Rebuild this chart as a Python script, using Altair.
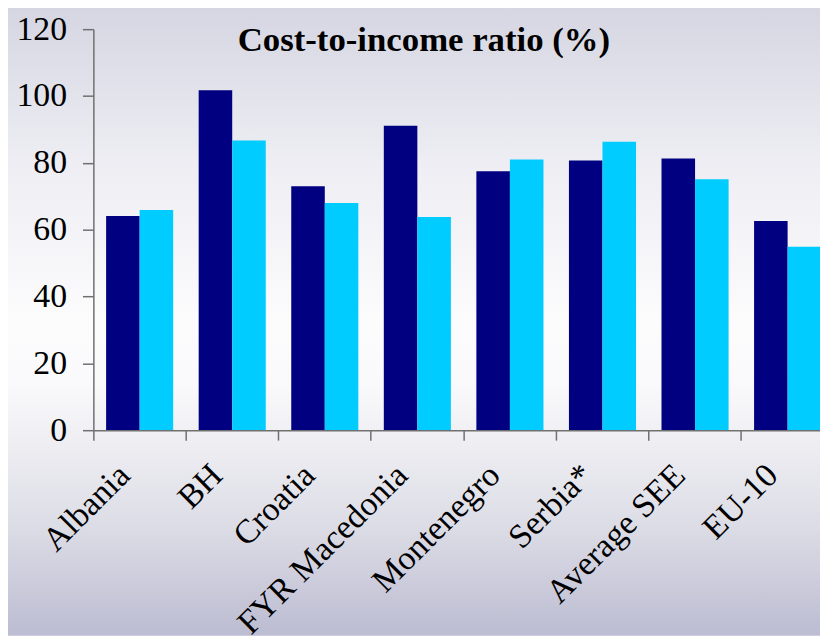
import altair as alt
import pandas as pd

categories = ["Albania", "BH", "Croatia", "FYR Macedonia", "Montenegro",
              "Serbia*", "Average SEE", "EU-10"]
series_names = ["Series 1", "Series 2"]
series1 = [64.1, 101.7, 73.0, 91.1, 77.5, 80.7, 81.3, 62.6]
series2 = [65.9, 86.7, 68.0, 63.8, 81.0, 86.3, 75.1, 54.9]
colors = ["#000080", "#00CCFF"]
y_ticks = [0, 20, 40, 60, 80, 100, 120]
title_text = "Cost-to-income ratio (%)"

rows = []
for c, a, b in zip(categories, series1, series2):
    rows.append({"category": c, "series": series_names[0], "value": a})
    rows.append({"category": c, "series": series_names[1], "value": b})
df = pd.DataFrame(rows)

W, H = 732, 404
PL, PT, PR, PB = 86, 19, 0, 207
SERIF = "Liberation Serif, Times New Roman, serif"

grad = alt.Gradient(
    gradient="linear",
    stops=[
        alt.GradientStop(color="#d5d5e2", offset=0),
        alt.GradientStop(color="#ededf3", offset=0.25),
        alt.GradientStop(color="#fcfcfd", offset=0.5),
        alt.GradientStop(color="#fafafc", offset=0.6),
        alt.GradientStop(color="#f0f0f4", offset=0.68),
        alt.GradientStop(color="#dcdce6", offset=0.83),
        alt.GradientStop(color="#bcbcd2", offset=1),
    ],
    x1=0, y1=0, x2=0, y2=1,
)

bg = alt.Chart(pd.DataFrame({"k": [0]})).mark_rect(fill=grad, clip=False).encode(
    x=alt.value(-PL - 10), x2=alt.value(W + PR + 20),
    y=alt.value(-PT - 8), y2=alt.value(638 - 8 - PT),
)

bars = alt.Chart(df).mark_bar().encode(
    x=alt.X("category:N", sort=categories, title=None,
            scale=alt.Scale(paddingInner=0, paddingOuter=0, range=[0, 746]),
            axis=alt.Axis(labelAngle=-45, labelAlign="right", labelBaseline="middle",
                          labelFont=SERIF, labelFontSize=34, labelColor="black",
                          labelPadding=30, labelOffset=-15, labelLimit=0,
                          domainColor="#707070", domainWidth=1.5,
                          tickColor="#707070", tickWidth=1.5, tickSize=10,
                          bandPosition=0, zindex=1)),
    xOffset=alt.XOffset("series:N", sort=series_names,
                        scale=alt.Scale(paddingInner=0, paddingOuter=0.38)),
    y=alt.Y("value:Q", title=None, scale=alt.Scale(domain=[0, 120], nice=False),
            axis=alt.Axis(values=y_ticks, grid=False,
                          labelFont=SERIF, labelFontSize=34, labelColor="black",
                          labelPadding=16, domainColor="#707070", domainWidth=1.5,
                          tickColor="#707070", tickWidth=1.5, tickSize=11, zindex=1)),
    color=alt.Color("series:N", scale=alt.Scale(domain=series_names, range=colors), legend=None),
)

title = alt.Chart(pd.DataFrame({"t": [title_text]})).mark_text(
    font=SERIF, fontWeight="bold", fontSize=35, color="black",
    align="center", baseline="alphabetic",
).encode(text="t:N", x=alt.value(333), y=alt.value(22))

chart = alt.layer(bg, bars, title).properties(
    width=W, height=H,
    autosize=alt.AutoSizeParams(type="none"),
    padding={"left": PL, "top": PT, "right": PR, "bottom": PB},
).configure_view(stroke=None).configure(background="white")

chart.save("out.html", embed_options={"renderer": "svg", "actions": False})
